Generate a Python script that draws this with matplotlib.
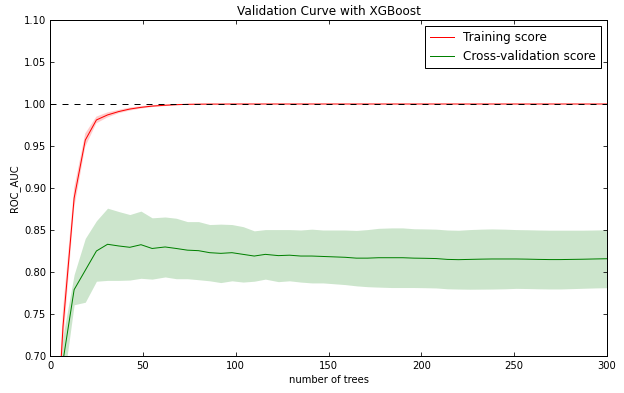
import numpy as np
import matplotlib
matplotlib.use("Agg")
import matplotlib.pyplot as plt

# number of trees (x grid of the validation curve)
n_trees = [1, 7, 13, 19, 25, 31, 37, 43, 49, 55,
           62, 68, 74, 80, 86, 92, 98, 104, 110, 116,
           123, 129, 135, 141, 147, 153, 159, 165, 171, 177,
           184, 190, 196, 202, 208, 214, 220, 226, 232, 238,
           245, 251, 257, 263, 269, 275, 281, 287, 293, 300]

train_mean = [0.500, 0.735, 0.888, 0.957, 0.981, 0.987, 0.991, 0.994, 0.996, 0.9975,
              0.9985, 0.9992, 0.9996, 0.9998, 0.9999, 0.9999, 1.0, 1.0, 1.0, 1.0,
              1.0, 1.0, 1.0, 1.0, 1.0, 1.0, 1.0, 1.0, 1.0, 1.0,
              1.0, 1.0, 1.0, 1.0, 1.0, 1.0, 1.0, 1.0, 1.0, 1.0,
              1.0, 1.0, 1.0, 1.0, 1.0, 1.0, 1.0, 1.0, 1.0, 1.0]
train_std = [0.010, 0.020, 0.012, 0.008, 0.004, 0.003, 0.002, 0.0018, 0.0015, 0.0012,
             0.0010, 0.0008, 0.0006, 0.0005, 0.0003, 0.0002, 0.0001, 0.0001, 0.0, 0.0,
             0.0, 0.0, 0.0, 0.0, 0.0, 0.0, 0.0, 0.0, 0.0, 0.0,
             0.0, 0.0, 0.0, 0.0, 0.0, 0.0, 0.0, 0.0, 0.0, 0.0,
             0.0, 0.0, 0.0, 0.0, 0.0, 0.0, 0.0, 0.0, 0.0, 0.0]

cv_mean = [0.500, 0.694, 0.779, 0.802, 0.825, 0.833, 0.831, 0.8294, 0.8325, 0.828,
           0.8298, 0.828, 0.826, 0.8254, 0.823, 0.8222, 0.823, 0.821, 0.819, 0.821,
           0.8195, 0.820, 0.819, 0.819, 0.8185, 0.818, 0.8175, 0.8165, 0.8165, 0.817,
           0.817, 0.817, 0.8165, 0.8163, 0.816, 0.815, 0.8147, 0.815, 0.8153, 0.8155,
           0.8155, 0.8155, 0.8153, 0.815, 0.8148, 0.8148, 0.815, 0.8152, 0.8155, 0.8158]
cv_std = [0.020, 0.030, 0.018, 0.038, 0.036, 0.043, 0.041, 0.039, 0.040, 0.0365,
          0.0357, 0.036, 0.034, 0.0346, 0.0335, 0.0348, 0.0335, 0.033, 0.030, 0.0295,
          0.031, 0.0305, 0.031, 0.032, 0.0315, 0.032, 0.0325, 0.033, 0.034, 0.035,
          0.0355, 0.0355, 0.035, 0.035, 0.035, 0.035, 0.035, 0.0355, 0.0357, 0.0358,
          0.0355, 0.035, 0.035, 0.035, 0.035, 0.035, 0.0348, 0.0346, 0.0345, 0.0345]

x = np.array(n_trees, dtype=float)
tr_m = np.array(train_mean)
tr_s = np.array(train_std)
cv_m = np.array(cv_mean)
cv_s = np.array(cv_std)

plt.rcParams['font.family'] = 'DejaVu Sans'
plt.rcParams['xtick.direction'] = 'in'
plt.rcParams['ytick.direction'] = 'in'
plt.rcParams['xtick.top'] = True
plt.rcParams['ytick.right'] = True
plt.rcParams['xtick.major.size'] = 4
plt.rcParams['ytick.major.size'] = 4
plt.rcParams['xtick.labelsize'] = 10
plt.rcParams['ytick.labelsize'] = 10
plt.rcParams['xtick.major.pad'] = 5
plt.rcParams['ytick.major.pad'] = 4

fig = plt.figure(figsize=(624 / 72, 393 / 72), dpi=72)
ax = fig.add_axes([50 / 624, 37 / 393, 557 / 624, 336 / 393])

ax.set_title("Validation Curve with XGBoost", fontsize=12, pad=5)
ax.set_xlabel("number of trees", fontsize=10)
ax.set_ylabel("ROC_AUC", fontsize=10)
ax.set_ylim(0.7, 1.1)
ax.set_xlim(0, 300)

ax.plot(x, tr_m, label="Training score", color="r", lw=1)
ax.fill_between(x, tr_m - tr_s, tr_m + tr_s, alpha=0.2, color="r", lw=0)
ax.plot(x, cv_m, label="Cross-validation score", color="g", lw=1)
ax.fill_between(x, cv_m - cv_s, cv_m + cv_s, alpha=0.2, color="g", lw=0)
ax.axhline(y=1, color='k', ls='--', lw=1, dashes=(6, 6))

ax.set_yticks(np.arange(0.70, 1.101, 0.05))
ax.yaxis.set_major_formatter(matplotlib.ticker.FormatStrFormatter('%.2f'))
ax.set_xticks(np.arange(0, 301, 50))

leg = ax.legend(loc="best", fontsize=12, fancybox=False, edgecolor='k',
                framealpha=1, borderpad=0.4, handlelength=2.0,
                handletextpad=0.8, labelspacing=0.5, borderaxespad=0.5)
leg.get_frame().set_linewidth(1)

for s in ax.spines.values():
    s.set_linewidth(1)

fig.savefig("out.png", dpi=72, facecolor='white')
